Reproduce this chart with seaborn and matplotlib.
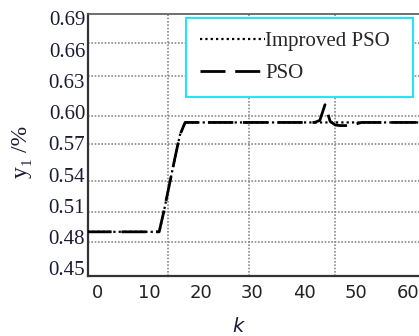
#!/usr/bin/env python3
import numpy as np
import pandas as pd
import seaborn as sns
import matplotlib.pyplot as plt

# values (k, y1 in %)
k_improved = [-2, 12, 13, 14, 15, 16, 17, 64]
y_improved = [0.485, 0.485, 0.507, 0.531, 0.555, 0.578, 0.590, 0.590]

k_pso = [-2, 12, 13, 14, 15, 16, 17, 42, 43, 44, 45, 46, 47, 48, 49, 50, 51, 64]
y_pso = [0.485, 0.485, 0.507, 0.531, 0.555, 0.578, 0.590, 0.590, 0.592, 0.607,
         0.591, 0.5875, 0.587, 0.587, 0.5875, 0.5885, 0.590, 0.590]

x_ticks = [0, 10, 20, 30, 40, 50, 60]
y_ticks = [0.45, 0.48, 0.51, 0.54, 0.57, 0.60, 0.63, 0.66, 0.69]

# odd grid spacing of the original plot
grid_x = [13.7, 29.3, 45.9]
grid_y = [0.4755, 0.5038, 0.5341, 0.5690, 0.5965, 0.6346, 0.6666]

df_imp = pd.DataFrame({"k": k_improved, "y": y_improved})
df_pso = pd.DataFrame({"k": k_pso, "y": y_pso})

sns.set_style("white")

fig = plt.figure(figsize=(4.19, 3.36), dpi=100)
ax = fig.add_axes([88/419, 60/336, 337/419, 262/336])

for gx in grid_x:
	ax.axvline(gx, color="#8a8a8a", lw=1.2, ls=(0, (1, 1)), zorder=1)
for gy in grid_y:
	ax.axhline(gy, color="#8a8a8a", lw=1.2, ls=(0, (1, 1)), zorder=1)

sns.lineplot(data=df_pso, x="k", y="y", ax=ax, color="black", lw=2.0,
	linestyle=(0, (9, 3.5)), label="PSO", zorder=3)
sns.lineplot(data=df_imp, x="k", y="y", ax=ax, color="black", lw=1.6,
	linestyle=(0, (1, 1.4)), label="Improved PSO", zorder=4)

ax.set_xlim(-1.74, 63.3)
ax.set_ylim(0.4426, 0.6941)
ax.set_xticks(x_ticks)
ax.set_yticks(y_ticks)
ax.set_xticklabels([str(v) for v in x_ticks], family="DejaVu Sans", fontsize=13, color="#222222")
ax.set_yticklabels(["%.2f" % v for v in y_ticks], family="Liberation Serif", fontsize=15, color="#1a1a33")
ax.tick_params(axis="both", length=0)
ax.tick_params(axis="x", pad=6)
ax.tick_params(axis="y", pad=2)
ax.set_xlabel("")
ax.set_ylabel("")

for side in ["left", "bottom"]:
	ax.spines[side].set_color("#333333")
	ax.spines[side].set_linewidth(1.6)
ax.spines["top"].set_color("#555555")
ax.spines["top"].set_linewidth(1.2)
ax.spines["right"].set_visible(False)

h, l = ax.get_legend_handles_labels()
leg = ax.legend(h[::-1], l[::-1], loc="upper left",
	bbox_to_anchor=((186-88)/337, 0, (413-186)/337, (276-18)/262),
	mode="expand", borderaxespad=0, prop={"family": "Liberation Serif", "size": 15},
	handlelength=3.15, handletextpad=0.0, labelspacing=0.6, borderpad=0.65,
	fancybox=False, framealpha=1, edgecolor="#22e5f5")
leg.get_frame().set_linewidth(1.5)

fig.text(21/419, 1 - 152/336, "y\u2081 /%", rotation=90, ha="center", va="center",
	family=["Liberation Serif", "DejaVu Serif"], fontsize=17, color="#1a1a33")
fig.text(238/419, 1 - 327/336, "k", ha="center", va="center", family="DejaVu Sans",
	style="italic", fontsize=14, color="#1a1a33")

fig.savefig("out.png", dpi=100)
